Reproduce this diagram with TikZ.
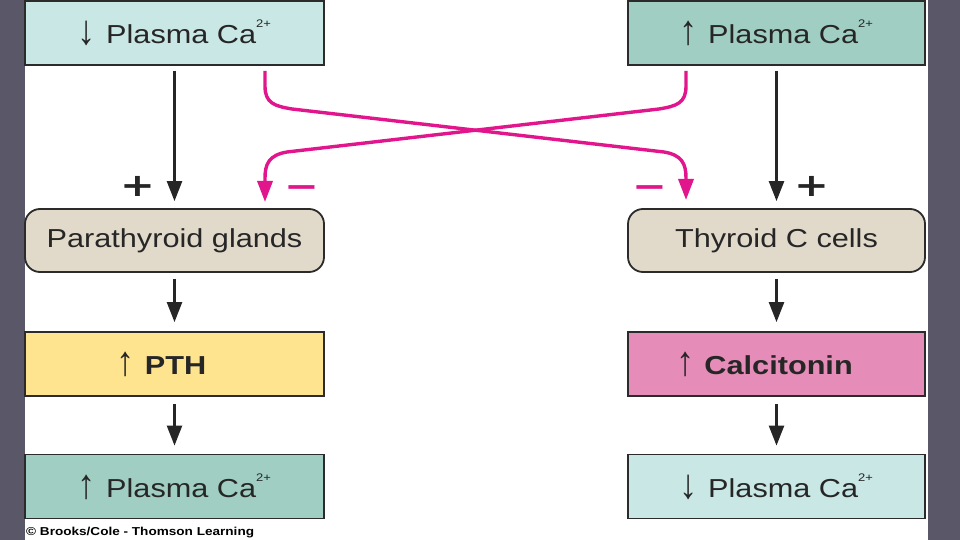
\documentclass[tikz,border=0pt]{standalone}
\usepackage{fontspec}
\setmainfont{Liberation Sans}[FakeStretch=1.18]
\newfontfamily\arrfont{Liberation Sans}
\newfontfamily\signfont{DejaVu Sans}[FakeStretch=1.3]
\usetikzlibrary{arrows.meta}
\definecolor{bgray}{HTML}{5A5868}
\definecolor{lcyan}{HTML}{C9E7E5}
\definecolor{lteal}{HTML}{A0CEC2}
\definecolor{lbeige}{HTML}{E1DACB}
\definecolor{lyellow}{HTML}{FFE490}
\definecolor{lpink}{HTML}{E68CB8}
\definecolor{bordc}{HTML}{2B2B2B}
\definecolor{magc}{HTML}{E2168C}
\newcommand{\caion}{Ca\raisebox{0.6em}{\fontsize{11}{11}\selectfont 2+}}
\newcommand{\upar}{\raisebox{-1pt}{\scalebox{1.4}[1.6]{\arrfont ↑}}\hspace{10pt}}
\newcommand{\dnar}{\raisebox{-1pt}{\scalebox{1.4}[1.6]{\arrfont ↓}}\hspace{10pt}}
\tikzset{
  boxl/.style={draw=bordc, line width=1.8pt, minimum width=299pt, minimum height=64pt, inner sep=0pt, font=\fontsize{26}{26}\selectfont, text=black!85},
  boxr/.style={boxl, minimum width=297pt},
  roundb/.style={rounded corners=15pt},
  blk/.style={draw=black!85, line width=2.4pt, -{Triangle[length=20pt,width=15pt]}},
  mag/.style={draw=magc, line width=3.4pt, -{Triangle[length=21pt,width=15pt]}},
  signtxt/.style={font=\signfont\bfseries\fontsize{32}{32}\selectfont, inner sep=0pt}
}
\begin{document}
\begin{tikzpicture}[x=1pt,y=-1pt]
\useasboundingbox (0,0) rectangle (960,540);
\fill[bgray] (0,0) rectangle (960,540);
\fill[white] (25,0) rectangle (928,540);
% boxes
\node[boxl, fill=lcyan] (tl) at (174.5,33) {\raisebox{-3pt}{\dnar Plasma \caion}};
\node[boxr, fill=lteal] (tr) at (776.5,33) {\raisebox{-3pt}{\upar Plasma \caion}};
\node[boxl, fill=lbeige, roundb, minimum height=63pt] (pg) at (174.5,240.5) {\raisebox{-3pt}{Parathyroid glands}};
\node[boxr, fill=lbeige, roundb, minimum height=63pt] (tc) at (776.5,240.5) {\raisebox{-3pt}{Thyroid C cells}};
\node[boxl, fill=lyellow] (pth) at (174.5,364) {\raisebox{-3pt}{\upar\textbf{PTH}}\kern26pt};
\node[boxr, fill=lpink] (cal) at (776.5,364) {\raisebox{-3pt}{\upar\textbf{Calcitonin}}\kern24pt};
\node[boxl, fill=lteal] (bl) at (174.5,486.5) {\raisebox{-3pt}{\upar Plasma \caion}};
\node[boxr, fill=lcyan] (br) at (776.5,486.5) {\raisebox{-3pt}{\dnar Plasma \caion}};
% black arrows
\draw[blk, shorten <=5pt, shorten >=7pt] (tl.south) -- (pg.north);
\draw[blk, shorten <=5pt, shorten >=7pt] (tr.south) -- (tc.north);
\draw[blk, shorten <=6pt, shorten >=9pt] (pg.south) -- (pth.north);
\draw[blk, shorten <=6pt, shorten >=9pt] (tc.south) -- (cal.north);
\draw[blk, shorten <=7pt, shorten >=8pt] (pth.south) -- (bl.north);
\draw[blk, shorten <=7pt, shorten >=8pt] (cal.south) -- (br.north);
% magenta crossing arrows
\coordinate (ls) at (265,71);
\coordinate (rs) at (686,71);
\coordinate (le) at (265,202);
\coordinate (re) at (686,200);
\draw[mag] (ls) -- (265,86) .. controls (265,103) and (274,106) .. (292,109)
  -- (664,152) .. controls (682,155) and (686,164) .. (686,178) -- (re);
\draw[mag] (rs) -- (686,86) .. controls (686,103) and (677,106) .. (659,109)
  -- (287,152) .. controls (269,155) and (265,164) .. (265,178) -- (le);
% signs
\node[signtxt, text=black!85] (p1) at (138,186) {+};
\node[signtxt, text=black!85] (p2) at (812,186) {+};
\node[signtxt, text=magc] (n1) at (301.5,192) {−};
\node[signtxt, text=magc] (n2) at (650,192) {−};
% copyright
\node[anchor=base west, inner sep=0pt, font=\bfseries\fontsize{11.5}{11.5}\selectfont] (cp) at (26,535) {© Brooks/Cole - Thomson Learning};
\end{tikzpicture}
\end{document}
